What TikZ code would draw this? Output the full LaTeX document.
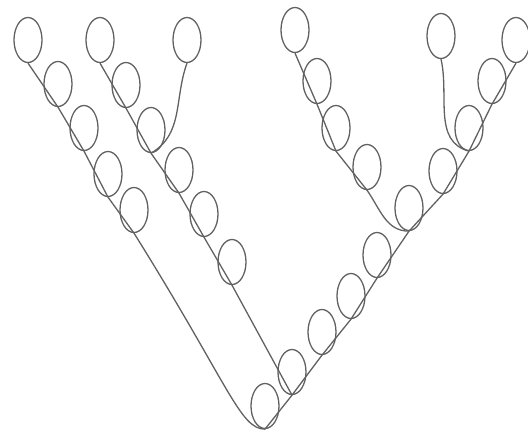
\documentclass[tikz,border=0pt]{standalone}
\usepackage{tikz}
\usetikzlibrary{shapes.geometric}

\begin{document}
\begin{tikzpicture}[x=1pt, y=1pt,
  ring/.style={ellipse, draw=black!62, line width=1.3pt, minimum width=28pt, minimum height=45pt, inner sep=0pt},
  strand/.style={draw=black!62, line width=1.3pt}]
\useasboundingbox (0,0) rectangle (528,-432);
% left part
\node[ring] (a1) at (28,-40) {}; \node[ring] (a2) at (58,-84) {};
\node[ring] (a3) at (84,-128) {}; \node[ring] (a4) at (108,-174) {};
\node[ring] (a5) at (134,-210) {};
\node[ring] (b1) at (100,-40) {}; \node[ring] (b2) at (126,-85) {};
\node[ring] (b3) at (151,-130) {}; \node[ring] (b4) at (179,-170) {};
\node[ring] (b5) at (204,-214) {}; \node[ring] (b6) at (232,-262) {};
\node[ring] (c1) at (187,-40) {};
% bottom and right part
\node[ring] (r) at (265,-406) {};
\node[ring] (u1) at (292,-372) {}; \node[ring] (u2) at (322,-332) {};
\node[ring] (u3) at (351,-296) {}; \node[ring] (u4) at (377,-255) {};
\node[ring] (u5) at (409,-208) {};
\node[ring] (d1) at (295,-30) {}; \node[ring] (d2) at (317,-81) {};
\node[ring] (d3) at (336,-128) {}; \node[ring] (d4) at (367,-167) {};
\node[ring] (e1) at (443,-171) {}; \node[ring] (e2) at (469,-128) {};
\node[ring] (e3) at (492,-81) {}; \node[ring] (e4) at (516,-40) {};
\node[ring] (f1) at (441,-36) {};
% strands
\draw[strand] (a1.south) -- (a2.south) -- (a3.south) -- (a4.south) -- (a5.south)
  .. controls +(-58:180) and +(180:25) .. (r.south);
\draw[strand] (b1.south) -- (b2.south) -- (b3.south) -- (b4.south) -- (b5.south)
  -- (b6.south) -- (u1.south);
\draw[strand] (c1.south) to[out=-110, in=30] (b3.south);
\draw[strand] (r.south) -- (u1.south) -- (u2.south) -- (u3.south) -- (u4.south) -- (u5.south);
\draw[strand] (d1.south) -- (d2.south) -- (d3.south) -- (d4.south) to[out=-55, in=180] (u5.south);
\draw[strand] (u5.south) -- (e1.south) -- (e2.south) -- (e3.south) -- (e4.south);
\draw[strand] (f1.south) to[out=-77, in=165] (e2.south);
\end{tikzpicture}
\end{document}
